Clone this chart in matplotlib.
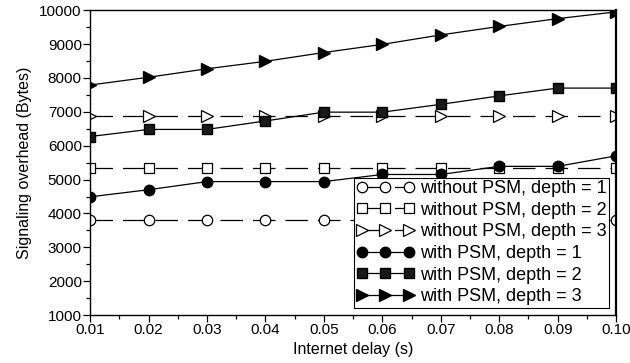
import matplotlib
matplotlib.use("Agg")
import matplotlib.pyplot as plt
from matplotlib.ticker import MultipleLocator

x = [0.01, 0.02, 0.03, 0.04, 0.05, 0.06, 0.07, 0.08, 0.09, 0.10]
wo_d1 = [3820] * 10
wo_d2 = [5340] * 10
wo_d3 = [6870] * 10
w_d1 = [4490, 4700, 4940, 4940, 4940, 5150, 5150, 5390, 5390, 5700]
w_d2 = [6270, 6480, 6480, 6730, 6990, 6990, 7220, 7470, 7700, 7700]
w_d3 = [7790, 8020, 8270, 8490, 8750, 8990, 9270, 9520, 9750, 9950]

labels = ["without PSM, depth = 1", "without PSM, depth = 2", "without PSM, depth = 3",
          "with PSM, depth = 1", "with PSM, depth = 2", "with PSM, depth = 3"]

plt.rcParams['font.family'] = ['Liberation Sans', 'DejaVu Sans']
fig = plt.figure(figsize=(6.3, 3.63), dpi=100)
ax = fig.add_axes([0.143, 0.132, 0.835, 0.840])

dash = (0, (18, 8))
ms = 7.5
ax.plot(x, wo_d1, color='black', lw=0.9, linestyle=dash, marker='o', ms=ms, mfc='white', mec='black', mew=0.9, label=labels[0])
ax.plot(x, wo_d2, color='black', lw=0.9, linestyle=dash, marker='s', ms=ms, mfc='white', mec='black', mew=0.9, label=labels[1])
ax.plot(x, wo_d3, color='black', lw=0.9, linestyle=dash, marker='>', ms=ms + 1, mfc='white', mec='black', mew=0.9, label=labels[2])
ax.plot(x, w_d1, color='black', lw=0.9, marker='o', ms=ms, mfc='black', mec='black', label=labels[3])
ax.plot(x, w_d2, color='black', lw=0.9, marker='s', ms=ms, mfc='#1a1a1a', mec='black', label=labels[4])
ax.plot(x, w_d3, color='black', lw=0.9, marker='>', ms=ms + 1, mfc='black', mec='black', label=labels[5])

ax.set_xlim(0.01, 0.10)
ax.set_ylim(1000, 10000)
ax.set_xticks(x)
ax.set_xticklabels(["%.2f" % v for v in x])
ax.xaxis.set_minor_locator(MultipleLocator(0.005))
ax.yaxis.set_major_locator(MultipleLocator(1000))
ax.yaxis.set_minor_locator(MultipleLocator(500))
ax.tick_params(axis='both', which='major', direction='out', length=5, width=0.9, labelsize=11, pad=1)
ax.tick_params(axis='both', which='minor', direction='out', length=3, width=0.9)
for s in ax.spines.values():
    s.set_linewidth(1.0)
ax.spines['right'].set_linewidth(1.6)

ax.set_xlabel("Internet delay (s)", fontsize=11.5, labelpad=3)
ax.set_ylabel("Signaling overhead (Bytes)", fontsize=11.5, labelpad=5)

leg = ax.legend(loc='lower right', numpoints=3, fontsize=13, frameon=True, fancybox=False,
                edgecolor='black', framealpha=1, handlelength=3.2, handletextpad=0.3,
                labelspacing=0.26, borderpad=0.12, borderaxespad=0.42)
leg.get_frame().set_linewidth(0.8)

fig.savefig("out.png", dpi=100)
